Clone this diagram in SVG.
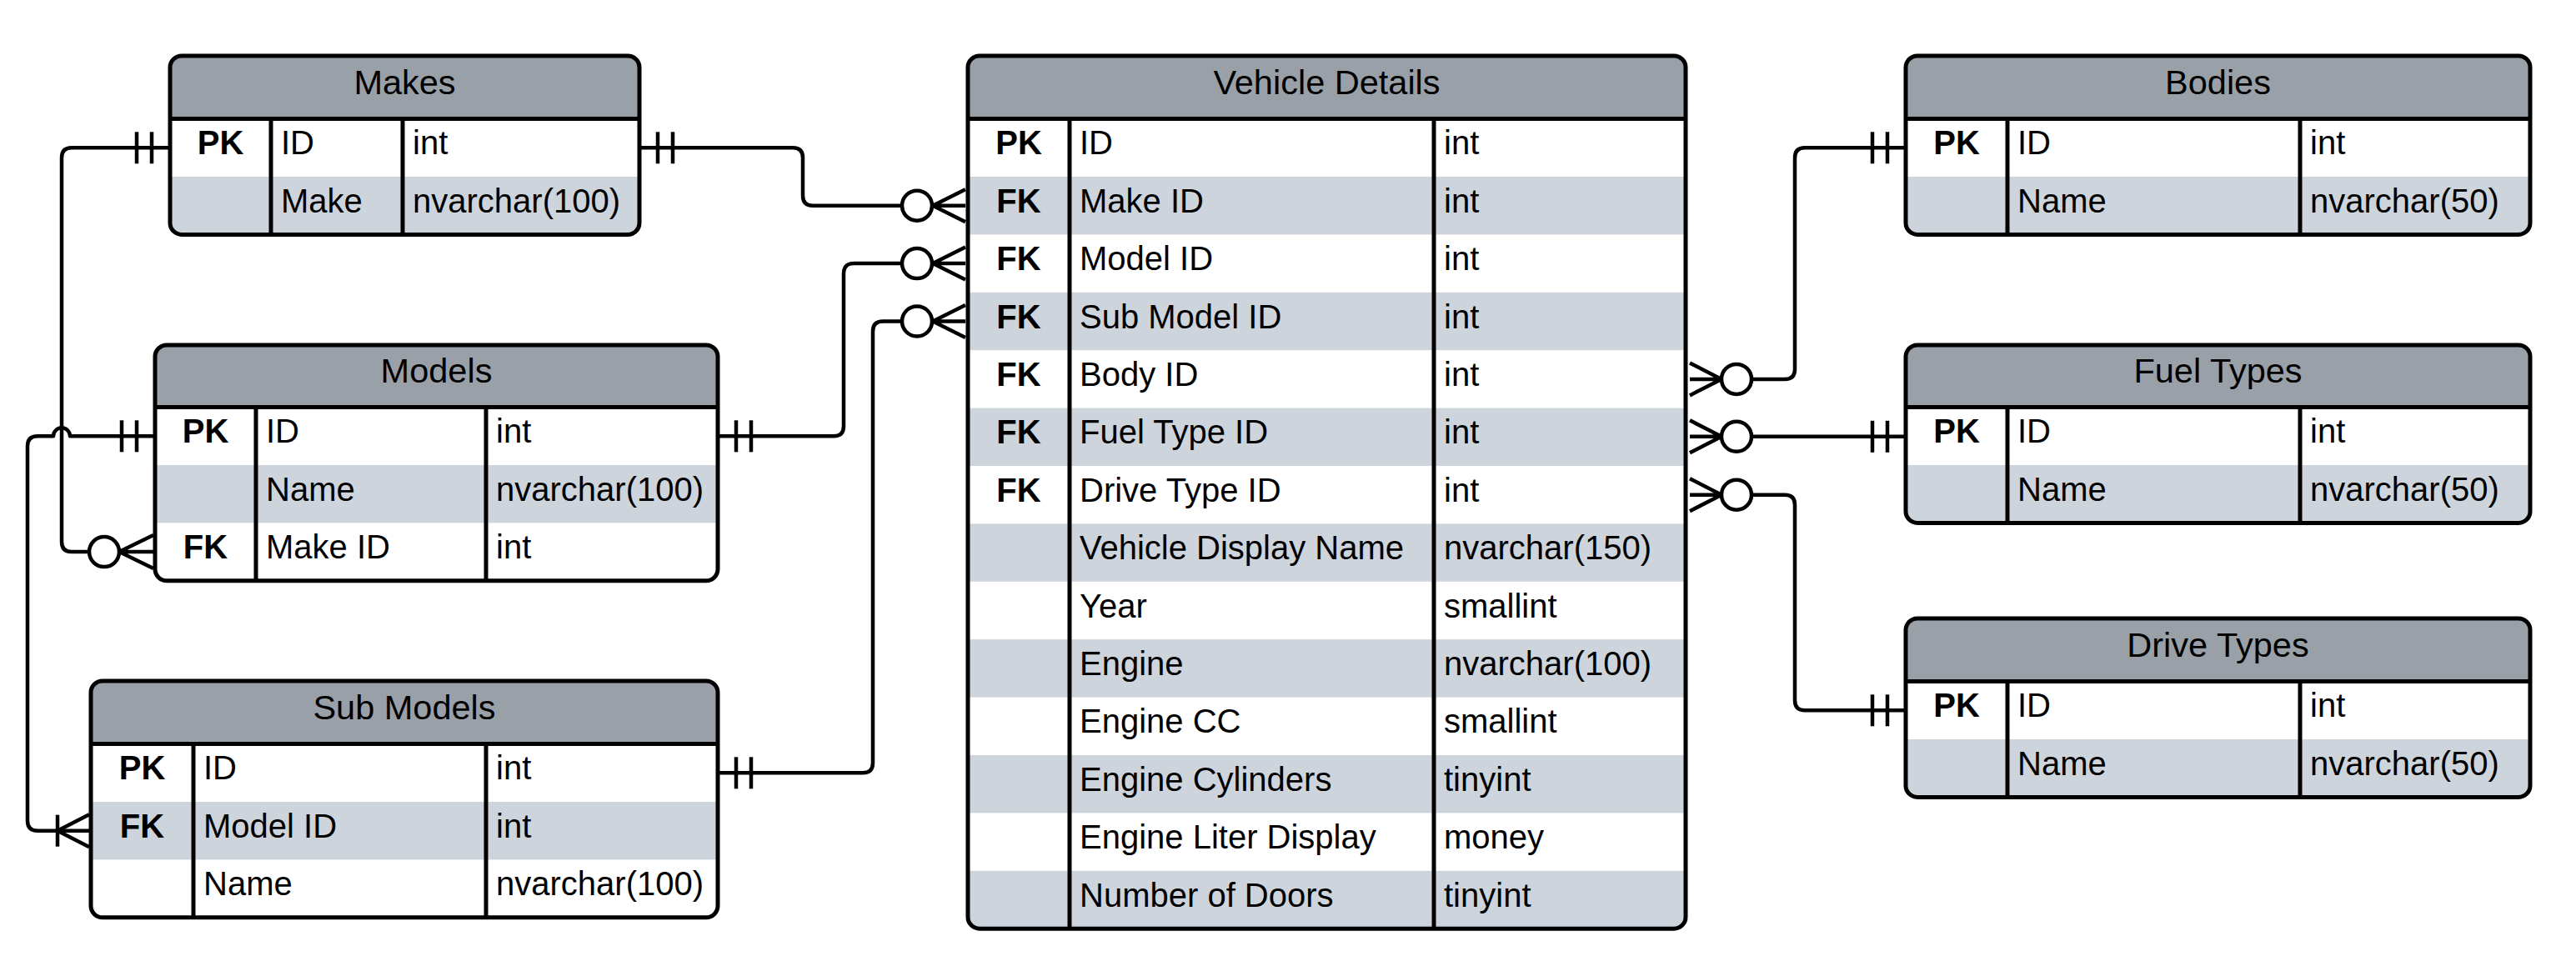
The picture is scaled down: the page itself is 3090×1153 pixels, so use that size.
<svg xmlns="http://www.w3.org/2000/svg" width="3090" height="1153" viewBox="0 0 3090 1153">
<style>
.bg{fill:#fff}
.hdr{fill:#9aa0a8}
.alt{fill:#ced4dc}
.box{fill:none;stroke:#000;stroke-width:5}
.dv{stroke:#000;stroke-width:5}
text{font-family:"Liberation Sans",Arial,sans-serif;font-size:40px;fill:#000}
.h{font-size:41.5px;text-anchor:middle}
.k{font-weight:bold;text-anchor:middle}
.c{fill:none;stroke:#000;stroke-width:4.5;stroke-linejoin:round;stroke-linecap:butt}
.o{fill:#fff;stroke:#000;stroke-width:4.5}
</style>
<defs>
<clipPath id="cMakes"><rect x="204" y="67" width="563" height="214.4" rx="14"/></clipPath>
<clipPath id="cVD"><rect x="1161" y="67" width="861" height="1047.2" rx="14"/></clipPath>
<clipPath id="cBodies"><rect x="2286" y="67" width="749" height="214.4" rx="14"/></clipPath>
<clipPath id="cModels"><rect x="186" y="414" width="675" height="282.8" rx="14"/></clipPath>
<clipPath id="cFuel"><rect x="2286" y="414" width="749" height="213.4" rx="14"/></clipPath>
<clipPath id="cDrive"><rect x="2286" y="742" width="749" height="214.4" rx="14"/></clipPath>
<clipPath id="cSub"><rect x="109" y="817" width="752" height="283.8" rx="14"/></clipPath>
</defs>
<rect x="0" y="0" width="3090" height="1153" fill="#fff"/>

<g id="connectors">
  <path class="c" d="M204,177.3 H86 Q74,177.3 74,189.3 V650 Q74,662.1 86,662.1 H107"/>
  <line class="c" x1="164" y1="158.3" x2="164" y2="196.3"/>
  <line class="c" x1="182" y1="158.3" x2="182" y2="196.3"/>
  <path class="c" d="M143,662.1 L184,642.1 M143,662.1 L184,662.1 M143,662.1 L184,682.1"/>
  <circle class="o" cx="125" cy="662.1" r="18"/>

  <path class="c" d="M186,523.3 H84 A10,10 0 0 0 64,523.3 H45 Q33,523.3 33,535.3 V984.7 Q33,996.7 45,996.7 H107"/>
  <line class="c" x1="146" y1="504.3" x2="146" y2="542.3"/>
  <line class="c" x1="164" y1="504.3" x2="164" y2="542.3"/>
  <line class="c" x1="69" y1="977.7" x2="69" y2="1015.7"/>
  <path class="c" d="M69,996.7 L107,977.2 M69,996.7 L107,1016.2"/>

  <path class="c" d="M767,177.3 H951 Q963,177.3 963,189.3 V234.7 Q963,246.7 975,246.7 H1082"/>
  <line class="c" x1="789" y1="158.3" x2="789" y2="196.3"/>
  <line class="c" x1="807" y1="158.3" x2="807" y2="196.3"/>
  <path class="c" d="M1119,246.7 L1158,227.2 M1119,246.7 L1158,246.7 M1119,246.7 L1158,266.2"/>
  <circle class="o" cx="1100" cy="246.7" r="18"/>

  <path class="c" d="M861,523.3 H1000 Q1012,523.3 1012,511.3 V328.1 Q1012,316.1 1024,316.1 H1082"/>
  <line class="c" x1="883" y1="504.3" x2="883" y2="542.3"/>
  <line class="c" x1="901" y1="504.3" x2="901" y2="542.3"/>
  <path class="c" d="M1119,316.1 L1158,296.6 M1119,316.1 L1158,316.1 M1119,316.1 L1158,335.6"/>
  <circle class="o" cx="1100" cy="316.1" r="18"/>

  <path class="c" d="M861,927.3 H1035 Q1047,927.3 1047,915.3 V397.5 Q1047,385.5 1059,385.5 H1082"/>
  <line class="c" x1="883" y1="908.3" x2="883" y2="946.3"/>
  <line class="c" x1="901" y1="908.3" x2="901" y2="946.3"/>
  <path class="c" d="M1119,385.5 L1158,366 M1119,385.5 L1158,385.5 M1119,385.5 L1158,405"/>
  <circle class="o" cx="1100" cy="385.5" r="18"/>

  <path class="c" d="M2101,454.9 H2141 Q2153,454.9 2153,442.9 V189.3 Q2153,177.3 2165,177.3 H2286"/>
  <line class="c" x1="2246" y1="158.3" x2="2246" y2="196.3"/>
  <line class="c" x1="2264" y1="158.3" x2="2264" y2="196.3"/>
  <path class="c" d="M2065,454.9 L2027,435.4 M2065,454.9 L2027,454.9 M2065,454.9 L2027,474.4"/>
  <circle class="o" cx="2083" cy="454.9" r="18"/>

  <path class="c" d="M2101,523.8 H2286"/>
  <line class="c" x1="2246" y1="504.8" x2="2246" y2="542.8"/>
  <line class="c" x1="2264" y1="504.8" x2="2264" y2="542.8"/>
  <path class="c" d="M2065,523.8 L2027,504.3 M2065,523.8 L2027,523.8 M2065,523.8 L2027,543.3"/>
  <circle class="o" cx="2083" cy="523.8" r="18"/>

  <path class="c" d="M2101,593.7 H2141 Q2153,593.7 2153,605.7 V840.3 Q2153,852.3 2165,852.3 H2286"/>
  <line class="c" x1="2246" y1="833.3" x2="2246" y2="871.3"/>
  <line class="c" x1="2264" y1="833.3" x2="2264" y2="871.3"/>
  <path class="c" d="M2065,593.7 L2027,574.2 M2065,593.7 L2027,593.7 M2065,593.7 L2027,613.2"/>
  <circle class="o" cx="2083" cy="593.7" r="18"/>
</g>

<g id="makes">
  <g clip-path="url(#cMakes)">
    <rect class="bg" x="204" y="67" width="563" height="214.4"/>
    <rect class="hdr" x="204" y="67" width="563" height="75.6"/>
    <rect class="alt" x="204" y="212" width="563" height="69.4"/>
  </g>
  <line class="dv" x1="204" y1="142.6" x2="767" y2="142.6"/>
  <line class="dv" x1="325" y1="142.6" x2="325" y2="281.4"/>
  <line class="dv" x1="483" y1="142.6" x2="483" y2="281.4"/>
  <rect class="box" x="204" y="67" width="563" height="214.4" rx="14"/>
  <text class="h" x="485.5" y="113">Makes</text>
  <text class="k" x="264.5" y="185.3">PK</text>
  <text x="337" y="185.3">ID</text>
  <text x="495" y="185.3">int</text>
  <text x="337" y="254.7">Make</text>
  <text x="495" y="254.7">nvarchar(100)</text>
</g>

<g id="vehicle-details">
  <g clip-path="url(#cVD)">
    <rect class="bg" x="1161" y="67" width="861" height="1047.2"/>
    <rect class="hdr" x="1161" y="67" width="861" height="75.6"/>
    <rect class="alt" x="1161" y="212" width="861" height="69.4"/>
    <rect class="alt" x="1161" y="350.8" width="861" height="69.4"/>
    <rect class="alt" x="1161" y="489.6" width="861" height="69.4"/>
    <rect class="alt" x="1161" y="628.4" width="861" height="69.4"/>
    <rect class="alt" x="1161" y="767.2" width="861" height="69.4"/>
    <rect class="alt" x="1161" y="906" width="861" height="69.4"/>
    <rect class="alt" x="1161" y="1044.8" width="861" height="69.4"/>
  </g>
  <line class="dv" x1="1161" y1="142.6" x2="2022" y2="142.6"/>
  <line class="dv" x1="1283" y1="142.6" x2="1283" y2="1114.2"/>
  <line class="dv" x1="1720" y1="142.6" x2="1720" y2="1114.2"/>
  <rect class="box" x="1161" y="67" width="861" height="1047.2" rx="14"/>
  <text class="h" x="1591.5" y="113">Vehicle Details</text>
  <text class="k" x="1222" y="185.3">PK</text>
  <text x="1295" y="185.3">ID</text>
  <text x="1732" y="185.3">int</text>
  <text class="k" x="1222" y="254.7">FK</text>
  <text x="1295" y="254.7">Make ID</text>
  <text x="1732" y="254.7">int</text>
  <text class="k" x="1222" y="324.1">FK</text>
  <text x="1295" y="324.1">Model ID</text>
  <text x="1732" y="324.1">int</text>
  <text class="k" x="1222" y="393.5">FK</text>
  <text x="1295" y="393.5">Sub Model ID</text>
  <text x="1732" y="393.5">int</text>
  <text class="k" x="1222" y="462.9">FK</text>
  <text x="1295" y="462.9">Body ID</text>
  <text x="1732" y="462.9">int</text>
  <text class="k" x="1222" y="532.3">FK</text>
  <text x="1295" y="532.3">Fuel Type ID</text>
  <text x="1732" y="532.3">int</text>
  <text class="k" x="1222" y="601.7">FK</text>
  <text x="1295" y="601.7">Drive Type ID</text>
  <text x="1732" y="601.7">int</text>
  <text x="1295" y="671.1">Vehicle Display Name</text>
  <text x="1732" y="671.1">nvarchar(150)</text>
  <text x="1295" y="740.5">Year</text>
  <text x="1732" y="740.5">smallint</text>
  <text x="1295" y="809.9">Engine</text>
  <text x="1732" y="809.9">nvarchar(100)</text>
  <text x="1295" y="879.3">Engine CC</text>
  <text x="1732" y="879.3">smallint</text>
  <text x="1295" y="948.7">Engine Cylinders</text>
  <text x="1732" y="948.7">tinyint</text>
  <text x="1295" y="1018.1">Engine Liter Display</text>
  <text x="1732" y="1018.1">money</text>
  <text x="1295" y="1087.5">Number of Doors</text>
  <text x="1732" y="1087.5">tinyint</text>
</g>

<g id="bodies">
  <g clip-path="url(#cBodies)">
    <rect class="bg" x="2286" y="67" width="749" height="214.4"/>
    <rect class="hdr" x="2286" y="67" width="749" height="75.6"/>
    <rect class="alt" x="2286" y="212" width="749" height="69.4"/>
  </g>
  <line class="dv" x1="2286" y1="142.6" x2="3035" y2="142.6"/>
  <line class="dv" x1="2408" y1="142.6" x2="2408" y2="281.4"/>
  <line class="dv" x1="2759" y1="142.6" x2="2759" y2="281.4"/>
  <rect class="box" x="2286" y="67" width="749" height="214.4" rx="14"/>
  <text class="h" x="2660.5" y="113">Bodies</text>
  <text class="k" x="2347" y="185.3">PK</text>
  <text x="2420" y="185.3">ID</text>
  <text x="2771" y="185.3">int</text>
  <text x="2420" y="254.7">Name</text>
  <text x="2771" y="254.7">nvarchar(50)</text>
</g>

<g id="models">
  <g clip-path="url(#cModels)">
    <rect class="bg" x="186" y="414" width="675" height="282.8"/>
    <rect class="hdr" x="186" y="414" width="675" height="74.6"/>
    <rect class="alt" x="186" y="558" width="675" height="69.4"/>
  </g>
  <line class="dv" x1="186" y1="488.6" x2="861" y2="488.6"/>
  <line class="dv" x1="307" y1="488.6" x2="307" y2="696.8"/>
  <line class="dv" x1="583" y1="488.6" x2="583" y2="696.8"/>
  <rect class="box" x="186" y="414" width="675" height="282.8" rx="14"/>
  <text class="h" x="523.5" y="459.3">Models</text>
  <text class="k" x="246.5" y="531.3">PK</text>
  <text x="319" y="531.3">ID</text>
  <text x="595" y="531.3">int</text>
  <text x="319" y="600.7">Name</text>
  <text x="595" y="600.7">nvarchar(100)</text>
  <text class="k" x="246.5" y="670.1">FK</text>
  <text x="319" y="670.1">Make ID</text>
  <text x="595" y="670.1">int</text>
</g>

<g id="fuel-types">
  <g clip-path="url(#cFuel)">
    <rect class="bg" x="2286" y="414" width="749" height="213.4"/>
    <rect class="hdr" x="2286" y="414" width="749" height="74.6"/>
    <rect class="alt" x="2286" y="558" width="749" height="69.4"/>
  </g>
  <line class="dv" x1="2286" y1="488.6" x2="3035" y2="488.6"/>
  <line class="dv" x1="2408" y1="488.6" x2="2408" y2="627.4"/>
  <line class="dv" x1="2759" y1="488.6" x2="2759" y2="627.4"/>
  <rect class="box" x="2286" y="414" width="749" height="213.4" rx="14"/>
  <text class="h" x="2660.5" y="459.3">Fuel Types</text>
  <text class="k" x="2347" y="531.3">PK</text>
  <text x="2420" y="531.3">ID</text>
  <text x="2771" y="531.3">int</text>
  <text x="2420" y="600.7">Name</text>
  <text x="2771" y="600.7">nvarchar(50)</text>
</g>

<g id="drive-types">
  <g clip-path="url(#cDrive)">
    <rect class="bg" x="2286" y="742" width="749" height="214.4"/>
    <rect class="hdr" x="2286" y="742" width="749" height="75.6"/>
    <rect class="alt" x="2286" y="887" width="749" height="69.4"/>
  </g>
  <line class="dv" x1="2286" y1="817.6" x2="3035" y2="817.6"/>
  <line class="dv" x1="2408" y1="817.6" x2="2408" y2="956.4"/>
  <line class="dv" x1="2759" y1="817.6" x2="2759" y2="956.4"/>
  <rect class="box" x="2286" y="742" width="749" height="214.4" rx="14"/>
  <text class="h" x="2660.5" y="787.8">Drive Types</text>
  <text class="k" x="2347" y="860.3">PK</text>
  <text x="2420" y="860.3">ID</text>
  <text x="2771" y="860.3">int</text>
  <text x="2420" y="929.7">Name</text>
  <text x="2771" y="929.7">nvarchar(50)</text>
</g>

<g id="sub-models">
  <g clip-path="url(#cSub)">
    <rect class="bg" x="109" y="817" width="752" height="283.8"/>
    <rect class="hdr" x="109" y="817" width="752" height="75.6"/>
    <rect class="alt" x="109" y="962" width="752" height="69.4"/>
  </g>
  <line class="dv" x1="109" y1="892.6" x2="861" y2="892.6"/>
  <line class="dv" x1="232" y1="892.6" x2="232" y2="1100.8"/>
  <line class="dv" x1="583" y1="892.6" x2="583" y2="1100.8"/>
  <rect class="box" x="109" y="817" width="752" height="283.8" rx="14"/>
  <text class="h" x="485" y="862.8">Sub Models</text>
  <text class="k" x="170.5" y="935.3">PK</text>
  <text x="244" y="935.3">ID</text>
  <text x="595" y="935.3">int</text>
  <text class="k" x="170.5" y="1004.7">FK</text>
  <text x="244" y="1004.7">Model ID</text>
  <text x="595" y="1004.7">int</text>
  <text x="244" y="1074.1">Name</text>
  <text x="595" y="1074.1">nvarchar(100)</text>
</g>
</svg>
